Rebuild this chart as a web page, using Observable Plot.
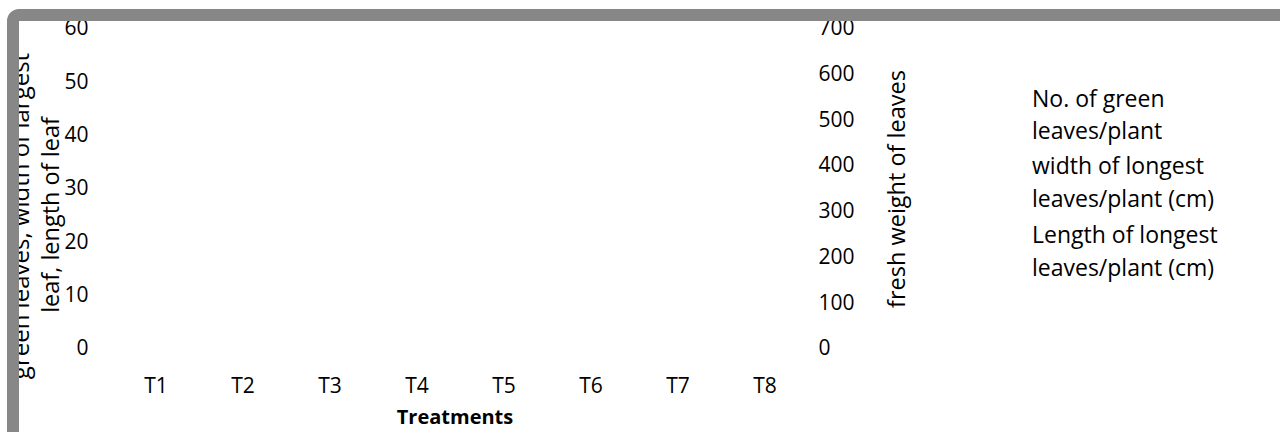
<!DOCTYPE html>
<html>
<head>
<meta charset="utf-8">
<script src="https://cdn.jsdelivr.net/npm/d3@7"></script>
<script src="https://cdn.jsdelivr.net/npm/@observablehq/plot@0.6"></script>
<style>
  html, body { margin: 0; padding: 0; background: #fff; }
  #chart { width: 1280px; height: 432px; overflow: hidden; }
</style>
</head>
<body>
<div id="chart"></div>
<script>
// Categories (x axis)
const treatments = ["T1", "T2", "T3", "T4", "T5", "T6", "T7", "T8"];
// Left axis ticks (count / cm)
const leftTicks = [0, 10, 20, 30, 40, 50, 60];
// Right axis ticks (fresh weight)
const rightTicks = [0, 100, 200, 300, 400, 500, 600, 700];
// Series names shown in the legend (no data marks are visible in the reference)
const seriesNames = [
  ["No. of green", "leaves/plant"],
  ["width of longest", "leaves/plant (cm)"],
  ["Length of longest", "leaves/plant (cm)"]
];
const leftTitle = ["green leaves, width of largest", "leaf, length of leaf"];
const rightTitle = "fresh weight of leaves";
const xTitle = "Treatments";

const leftMax = 60, rightMax = 700;
const FONT = "'Open Sans', 'Noto Sans', sans-serif";

const chart = Plot.plot({
  width: 1280,
  height: 432,
  marginLeft: 111,
  marginRight: 472,
  marginTop: 28,
  marginBottom: 84,
  style: { fontFamily: FONT, fontSize: "21px", color: "#000", background: "#fff" },
  x: { type: "band", domain: treatments, padding: 0 },
  y: { domain: [0, leftMax] },
  marks: [
    Plot.axisX({ tickSize: 0, tickPadding: 30, label: null, fontSize: 21 }),
    Plot.axisY({ ticks: leftTicks, tickSize: 0, tickPadding: 23, label: null, fontSize: 21 }),
    Plot.axisY(rightTicks.map(d => d * leftMax / rightMax), {
      anchor: "right", tickSize: 0, tickPadding: 10, label: null, fontSize: 21,
      tickFormat: d => String(Math.round(d * rightMax / leftMax))
    })
  ]
});

const svg = d3.select(chart);

function addText(x, y, str, opts = {}) {
  const t = svg.append("text")
    .attr("text-anchor", opts.anchor || "start")
    .attr("font-family", FONT)
    .attr("font-size", opts.size || 23)
    .attr("font-weight", opts.weight || "normal")
    .attr("fill", "#000")
    .text(str);
  if (opts.rotate) t.attr("transform", `translate(${x},${y}) rotate(-90)`);
  else t.attr("x", x).attr("y", y);
  return t;
}

// Left axis title (two visible lines)
addText(29, 216, leftTitle[0], { anchor: "middle", rotate: true, size: 24 });
addText(59, 215, leftTitle[1], { anchor: "middle", rotate: true, size: 23.5 });

// Right axis title
addText(905, 189, rightTitle, { anchor: "middle", rotate: true, size: 23.5 });

// X axis title
addText(455, 424, xTitle, { anchor: "middle", size: 20, weight: "bold" });

// Legend text
const baselines = [[107, 139], [174, 207], [243, 276]];
seriesNames.forEach((lines, i) => {
  lines.forEach((ln, j) => addText(1032, baselines[i][j], ln, { size: 23 }));
});

// Chart-area border (gray rounded frame, cropped at right and bottom)
svg.append("rect")
  .attr("x", 13).attr("y", 15)
  .attr("width", 1400).attr("height", 600)
  .attr("rx", 6)
  .attr("fill", "none").attr("stroke", "#878787").attr("stroke-width", 12);

document.getElementById("chart").appendChild(chart);
</script>
</body>
</html>
